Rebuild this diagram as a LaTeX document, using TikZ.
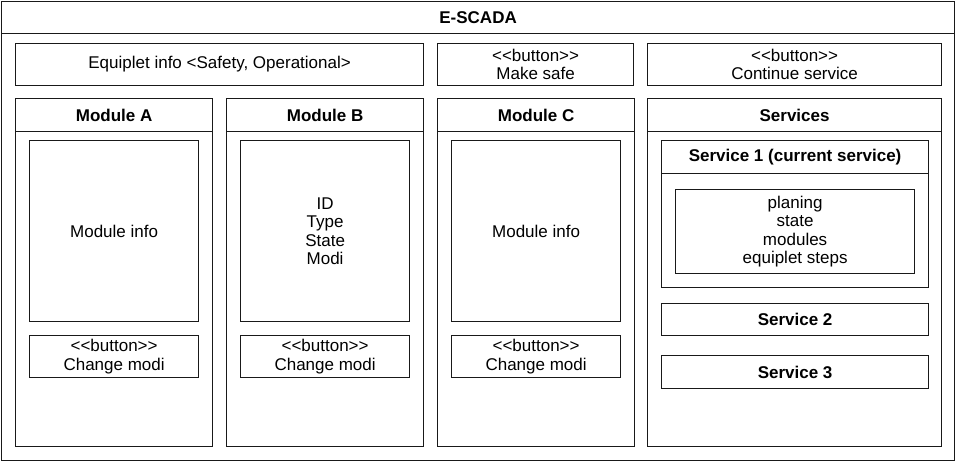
\documentclass[tikz,border=0pt]{standalone}
\usepackage{fontspec}
\setmainfont{Liberation Sans}
\usepackage{tikz}
\usetikzlibrary{positioning}
\newcommand{\btnlabel}{<\kern0pt<button>\kern0pt>}

\begin{document}
\begin{tikzpicture}[x=1pt, y=-1pt,
    frame/.style={draw=black!90, line width=1.2pt, inner sep=0pt, anchor=north west, align=center, font=\fontsize{17}{18.5}\selectfont},
    title/.style={frame, font=\fontsize{17}{18.5}\selectfont\bfseries}]
  \useasboundingbox (0,0) rectangle (957,462);

  % Window
  \node[frame, minimum width=953, minimum height=459] (win) at (1,1) {};
  \node[title, minimum width=953, minimum height=32] (win-head) at (1,1) {E-SCADA};

  % Top row
  \node[frame, minimum width=408, minimum height=42] (info) at (15,43) {Equiplet info <Safety, Operational>};
  \node[frame, minimum width=196, minimum height=42] (safe) at (437,43) {\btnlabel\\Make safe};
  \node[frame, minimum width=294, minimum height=42] (cont) at (647,43) {\btnlabel\\Continue service};

  % Modules
  \foreach \m/\x/\body in {A/15/{Module info}, B/226/{ID\\Type\\State\\Modi}, C/437/{Module info}} {
    \node[frame, minimum width=197, minimum height=348] (mod\m) at (\x,98) {};
    \node[title, minimum width=197, minimum height=33] (mod\m-head) at (\x,98) {Module \m};
    \node[frame, minimum width=169, minimum height=181] (mod\m-info) at (\x+14,140) {\body};
    \node[frame, minimum width=169, minimum height=42] (mod\m-btn) at (\x+14,335) {\btnlabel\\Change modi};
  }

  % Services
  \node[frame, minimum width=294, minimum height=348] (srv) at (647,98) {};
  \node[title, minimum width=294, minimum height=33] (srv-head) at (647,98) {Services};
  \node[frame, minimum width=267, minimum height=147] (s1) at (661,140) {};
  \node[title, minimum width=267, minimum height=33] (s1-head) at (661,140) {Service 1 (current service)};
  \node[frame, minimum width=239, minimum height=84] (s1-info) at (675,189) {planing\\state\\modules\\equiplet steps};
  \node[title, minimum width=267, minimum height=32] (s2) at (661,303) {Service 2};
  \node[title, minimum width=267, minimum height=33] (s3) at (661,355) {Service 3};
\end{tikzpicture}
\end{document}
